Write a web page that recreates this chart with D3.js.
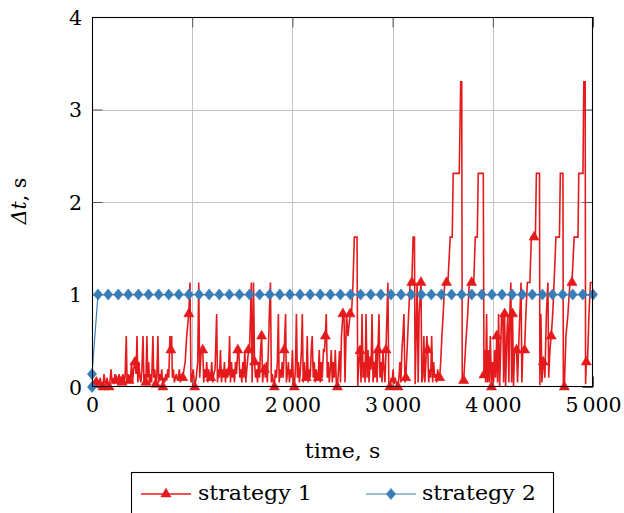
<!DOCTYPE html>
<html>
<head>
<meta charset="utf-8">
<script src="https://cdn.jsdelivr.net/npm/d3@7"></script>
<style>
  html, body { margin: 0; padding: 0; background: #fff; }
  svg { display: block; }
  text { font-family: "DejaVu Serif", "Liberation Serif", serif; fill: #000; }
</style>
</head>
<body>
<svg id="chart" width="624" height="513"></svg>
<script>
// ---- data ----
const xTicks = [0, 1000, 2000, 3000, 4000, 5000];
const yTicks = [0, 1, 2, 3, 4];
const seriesNames = ["strategy 1", "strategy 2"];
const xLabel = "time, s";

// strategy 1: [time (s), Δt (s)]
const strategy1 = [
  [0,0.02],[10,0.05],[20,0.02],[30,0.07],[43,0.05],[52,0.0],[62,0.07],[72,0.02],[82,0.1],[92,0.03],
  [110,0.0],[120,0.14],[130,0.05],[140,0.02],[150,0.1],[160,0.03],[171,0.0],[180,0.07],[190,0.19],[200,0.05],
  [210,0.1],[220,0.03],[230,0.14],[240,0.07],[250,0.1],[260,0.03],[270,0.14],[280,0.07],[290,0.1],[300,0.05],
  [310,0.14],[320,0.07],[330,0.1],[342,0.55],[350,0.05],[360,0.14],[370,0.07],[385,0.1],[395,0.27],[405,0.05],
  [415,0.19],[429,0.27],[440,0.14],[449,0.55],[458,0.05],[468,0.27],[478,0.1],[488,0.05],[498,0.19],[509,0.55],
  [518,0.07],[528,0.14],[538,0.05],[548,0.55],[556,0.1],[566,0.27],[575,0.03],[585,0.14],[595,0.05],[608,0.55],
  [616,0.1],[626,0.19],[636,0.03],[646,0.1],[658,0.55],[666,0.05],[676,0.14],[686,0.07],[696,0.19],[708,0.0],
  [716,0.1],[726,0.05],[736,0.14],[746,0.07],[756,0.19],[766,0.1],[778,0.55],[787,0.4],[795,0.55],[802,0.1],
  [812,0.19],[822,0.05],[832,0.1],[842,0.14],[852,0.07],[862,0.1],[872,0.19],[882,0.05],[894,0.14],[906,0.1],
  [918,0.19],[930,0.27],[945,0.55],[966,0.79],[978,1.13],[988,0.05],[998,0.1],[1010,0.19],[1025,0.0],[1040,0.1],
  [1055,0.27],[1065,1.13],[1075,0.1],[1090,0.4],[1105,0.4],[1115,0.05],[1125,0.19],[1135,0.1],[1145,0.27],[1155,0.05],
  [1165,0.19],[1175,0.1],[1185,0.1],[1195,0.27],[1205,0.05],[1215,0.14],[1228,0.19],[1244,0.79],[1252,0.05],[1262,0.19],
  [1272,0.1],[1282,0.4],[1292,0.05],[1302,0.19],[1312,0.1],[1322,0.27],[1332,0.05],[1342,0.19],[1352,0.1],[1363,0.16],
  [1373,0.55],[1382,0.05],[1392,0.27],[1402,0.1],[1412,0.19],[1422,0.05],[1432,0.27],[1442,0.14],[1455,0.4],[1465,0.4],
  [1475,0.1],[1485,0.19],[1495,0.05],[1505,0.27],[1515,0.1],[1525,0.4],[1535,0.05],[1545,0.19],[1562,0.4],[1572,0.4],
  [1582,0.79],[1590,1.13],[1598,0.05],[1605,0.4],[1612,1.13],[1622,0.27],[1632,0.1],[1642,0.19],[1652,0.05],[1662,0.27],
  [1672,0.1],[1682,0.4],[1693,0.55],[1703,0.05],[1712,0.19],[1721,0.19],[1730,0.1],[1740,0.27],[1750,0.05],[1760,0.4],
  [1770,0.79],[1781,1.13],[1790,0.05],[1800,0.14],[1810,0.05],[1820,0.0],[1830,0.19],[1840,0.1],[1850,0.27],[1860,0.79],
  [1868,0.05],[1878,0.19],[1888,0.1],[1898,0.27],[1908,0.1],[1918,0.4],[1932,0.79],[1940,0.05],[1950,0.14],[1960,0.27],
  [1970,0.05],[1980,0.19],[1990,0.1],[2000,0.4],[2010,0.05],[2019,0.0],[2030,0.19],[2040,0.79],[2050,0.1],[2060,0.27],
  [2070,0.05],[2080,0.19],[2090,0.4],[2099,0.79],[2108,0.05],[2118,0.27],[2128,0.1],[2139,0.1],[2148,0.55],[2158,0.05],
  [2168,0.19],[2178,0.1],[2188,0.4],[2198,0.55],[2208,0.1],[2218,0.27],[2228,0.05],[2238,0.19],[2248,0.1],[2258,0.1],
  [2268,0.4],[2278,0.05],[2288,0.27],[2298,0.1],[2310,0.4],[2320,0.39],[2329,0.55],[2338,0.79],[2348,0.1],[2358,0.27],
  [2368,0.05],[2378,0.19],[2388,0.4],[2398,0.05],[2408,0.27],[2418,0.1],[2428,0.4],[2438,0.05],[2449,0.0],[2460,0.19],
  [2470,0.39],[2480,0.05],[2490,0.55],[2504,0.79],[2515,0.79],[2525,0.05],[2540,0.79],[2555,0.55],[2576,0.79],[2590,0.79],
  [2605,1.13],[2618,1.62],[2645,1.62],[2652,0.0],[2662,0.27],[2675,0.39],[2685,0.05],[2695,0.79],[2705,0.1],[2715,0.27],
  [2725,0.05],[2735,0.79],[2745,0.1],[2755,0.4],[2765,0.05],[2775,0.27],[2785,0.19],[2795,0.79],[2805,0.05],[2815,0.27],
  [2825,0.1],[2835,0.4],[2845,0.05],[2854,0.4],[2864,0.79],[2874,0.1],[2884,0.27],[2894,0.05],[2904,0.4],[2914,0.19],
  [2924,0.05],[2934,0.4],[2944,0.79],[2953,1.13],[2962,0.05],[2973,0.0],[2985,0.1],[2995,0.05],[3005,0.19],[3015,0.03],
  [3025,0.1],[3035,0.05],[3053,0.0],[3063,0.1],[3073,0.27],[3083,0.05],[3093,0.4],[3103,0.55],[3113,0.79],[3123,0.05],
  [3132,0.1],[3145,0.4],[3160,0.79],[3175,1.13],[3192,1.13],[3205,1.62],[3218,1.62],[3225,0.03],[3235,0.55],[3245,1.13],
  [3255,0.05],[3265,0.79],[3283,1.13],[3292,0.05],[3302,0.1],[3312,0.55],[3322,0.05],[3332,0.27],[3342,0.55],[3351,0.4],
  [3360,0.05],[3370,0.19],[3380,0.1],[3390,0.55],[3400,0.05],[3410,0.27],[3420,0.1],[3430,0.14],[3440,0.05],[3450,0.19],
  [3460,0.1],[3470,0.1],[3480,0.27],[3492,0.55],[3505,0.79],[3520,1.13],[3538,1.13],[3552,1.13],[3575,1.62],[3595,1.62],
  [3605,2.31],[3665,2.31],[3680,3.3],[3690,3.3],[3695,0.05],[3700,0.1],[3709,0.07],[3720,0.27],[3735,0.55],[3750,0.79],
  [3765,1.13],[3788,1.13],[3810,1.13],[3825,1.62],[3845,1.62],[3855,2.31],[3905,2.31],[3912,0.13],[3920,0.4],[3928,0.05],
  [3938,0.79],[3946,0.05],[3955,0.4],[3965,0.05],[3975,0.55],[3987,0.0],[3997,0.27],[4008,0.05],[4018,0.4],[4028,0.1],
  [4039,0.55],[4048,0.05],[4058,0.79],[4068,0.0],[4078,0.4],[4088,0.79],[4100,0.79],[4108,0.05],[4118,0.79],[4128,0.0],
  [4140,0.55],[4150,0.79],[4160,0.05],[4170,0.79],[4180,1.13],[4188,0.05],[4197,0.79],[4207,0.0],[4217,0.4],[4227,0.4],
  [4237,0.4],[4247,0.05],[4257,0.4],[4270,0.79],[4282,1.13],[4290,0.05],[4300,0.4],[4317,0.4],[4330,0.79],[4345,1.13],
  [4370,1.13],[4385,1.62],[4412,1.62],[4425,1.62],[4435,2.31],[4466,2.31],[4470,0.02],[4480,0.79],[4490,0.05],[4503,0.27],
  [4512,0.27],[4520,0.1],[4535,0.79],[4550,1.13],[4558,0.1],[4570,0.4],[4583,0.55],[4598,0.79],[4612,1.13],[4630,1.62],
  [4665,1.62],[4674,2.31],[4700,2.31],[4704,0.0],[4714,0.0],[4730,0.55],[4750,0.79],[4770,1.13],[4790,1.13],[4812,1.62],
  [4850,1.62],[4858,2.31],[4900,2.31],[4908,3.3],[4922,3.3],[4926,0.03],[4933,0.27],[4945,0.27],[4960,0.79],[4975,1.13],
  [5000,1.13]
];

// times of the strategy 1 samples that carry a marker
const strategy1Marked = [
  43,110,171,240,300,370,429,538,636,708,787,906,966,1025,1105,1185,1363,1455,1562,1622,
  1693,1721,1820,1918,2019,2139,2258,2329,2449,2504,2576,2675,2775,2854,2934,2973,3053,3132,3192,3283,
  3351,3470,3538,3709,3788,3912,3987,4039,4118,4197,4237,4317,4412,4503,4583,4714,4790,4933
];

// strategy 2: [time (s), Δt (s)]
const strategy2 = [
  [0,0],[0,0.14],[60,1],[161,1],[262,1],[362,1],[463,1],[564,1],[665,1],[766,1],[866,1],[967,1],
  [1068,1],[1169,1],[1270,1],[1370,1],[1471,1],[1572,1],[1673,1],[1774,1],[1874,1],[1975,1],
  [2076,1],[2177,1],[2278,1],[2378,1],[2479,1],[2580,1],[2681,1],[2782,1],[2882,1],[2983,1],
  [3084,1],[3185,1],[3286,1],[3386,1],[3487,1],[3588,1],[3689,1],[3790,1],[3890,1],[3991,1],
  [4092,1],[4193,1],[4294,1],[4394,1],[4495,1],[4596,1],[4697,1],[4798,1],[4898,1],[5000,1]
];

// ---- layout ----
const plot = { left: 92, right: 593, top: 17, bottom: 387 };
const red = "#e41a1c", blue = "#377eb8";
const wordScale = 1.08;

const svg = d3.select("#chart");
const x = d3.scaleLinear().domain([0, 5000]).range([plot.left, plot.right]);
const y = d3.scaleLinear().domain([0, 4]).range([plot.bottom, plot.top]);

// grid
const grid = svg.append("g").attr("stroke", "#c4c4c4").attr("stroke-width", 1);
grid.selectAll("line.gx").data(xTicks.slice(1, -1)).join("line")
  .attr("x1", d => Math.round(x(d)) + 0.5).attr("x2", d => Math.round(x(d)) + 0.5)
  .attr("y1", plot.top).attr("y2", plot.bottom);
grid.selectAll("line.gy").data(yTicks.slice(1, -1)).join("line")
  .attr("y1", d => Math.round(y(d)) + 0.5).attr("y2", d => Math.round(y(d)) + 0.5)
  .attr("x1", plot.left).attr("x2", plot.right);

// axes: ticks point inward on all four sides
const fmtX = d => d === 0 ? "0" : d3.format(",")(d).replace(",", "\u2009");
const tickLen = 10.5;
function styleAxis(g, showText) {
  g.select(".domain").remove();
  g.selectAll(".tick line").attr("stroke", "#555").attr("stroke-width", 1);
  g.selectAll(".tick text")
    .style("font-family", '"DejaVu Serif", serif')
    .style("font-size", "20.5px")
    .attr("fill", "#000")
    .style("display", showText ? null : "none");
}
svg.append("g").attr("transform", `translate(0,${plot.bottom})`)
  .call(d3.axisBottom(x).tickValues(xTicks).tickFormat(fmtX).tickSizeInner(-tickLen).tickSizeOuter(0).tickPadding(10))
  .call(g => styleAxis(g, true))
  .call(g => g.selectAll(".tick text").attr("y", 10).attr("dy", "0.75em"));
svg.append("g").attr("transform", `translate(0,${plot.top})`)
  .call(d3.axisTop(x).tickValues(xTicks).tickSizeInner(-tickLen).tickSizeOuter(0))
  .call(g => styleAxis(g, false));
svg.append("g").attr("transform", `translate(${plot.left},0)`)
  .call(d3.axisLeft(y).tickValues(yTicks).tickFormat(d3.format("d")).tickSizeInner(-tickLen).tickSizeOuter(0))
  .call(g => styleAxis(g, true))
  .call(g => g.selectAll(".tick text").attr("x", -10).attr("dy", "0.36em"));
svg.append("g").attr("transform", `translate(${plot.right},0)`)
  .call(d3.axisRight(y).tickValues(yTicks).tickSizeInner(-tickLen).tickSizeOuter(0))
  .call(g => styleAxis(g, false));

// series lines, clipped to the plot box
svg.append("clipPath").attr("id", "plotClip").append("rect")
  .attr("x", plot.left).attr("y", plot.top)
  .attr("width", plot.right - plot.left).attr("height", plot.bottom - plot.top);

const line = d3.line().x(d => x(d[0])).y(d => y(d[1]));

const triangle = r => `M0,${-r}L${0.866 * r},${0.5 * r}L${-0.866 * r},${0.5 * r}Z`;
const diamond = (hw, hh) => `M0,${-hh}L${hw},0L0,${hh}L${-hw},0Z`;

// strategy 1
svg.append("path").datum(strategy1)
  .attr("clip-path", "url(#plotClip)")
  .attr("fill", "none").attr("stroke", red).attr("stroke-width", 1.6)
  .attr("d", line);
const s1ByTime = new Map(strategy1.map(d => [d[0], d[1]]));
svg.append("g").selectAll("path")
  .data(strategy1Marked.map(t => [t, s1ByTime.get(t)]))
  .join("path")
  .attr("transform", d => `translate(${x(d[0])},${y(d[1])})`)
  .attr("d", triangle(5.8))
  .attr("fill", red).attr("stroke", red).attr("stroke-width", 0.6);

// strategy 2
svg.append("path").datum(strategy2)
  .attr("clip-path", "url(#plotClip)")
  .attr("fill", "none").attr("stroke", blue).attr("stroke-width", 1.2)
  .attr("d", line);
svg.append("g").selectAll("path")
  .data(strategy2)
  .join("path")
  .attr("transform", d => `translate(${x(d[0])},${y(d[1])})`)
  .attr("d", diamond(4.6, 5.6))
  .attr("fill", blue).attr("stroke", blue).attr("stroke-width", 0.6);

// frame
svg.append("rect")
  .attr("x", plot.left + 0.5).attr("y", plot.top + 0.5)
  .attr("width", plot.right - plot.left - 1).attr("height", plot.bottom - plot.top - 1)
  .attr("fill", "none").attr("stroke", "#000").attr("stroke-width", 1.1);

// axis titles
svg.append("text")
  .attr("transform", `translate(${(plot.left + plot.right) / 2},458) scale(${wordScale},1)`)
  .attr("text-anchor", "middle")
  .style("font-size", "20.5px")
  .text(xLabel);

const yTitle = svg.append("text")
  .attr("transform", "translate(26,201) rotate(-90)")
  .attr("text-anchor", "middle")
  .style("font-size", "20.5px");
yTitle.append("tspan").style("font-style", "italic").text("\u0394t");
yTitle.append("tspan").text(", s");

// legend
const legend = svg.append("g");
legend.append("rect")
  .attr("x", 131.5).attr("y", 472.5).attr("width", 422).attr("height", 60)
  .attr("fill", "#fff").attr("stroke", "#000").attr("stroke-width", 1.1);
const legendItems = [
  { name: seriesNames[0], color: red, x0: 141, mark: triangle(5.8), textX: 198, width: 1.6 },
  { name: seriesNames[1], color: blue, x0: 366, mark: diamond(4.6, 5.6), textX: 422, width: 1.2 }
];
const li = legend.selectAll("g.item").data(legendItems).join("g");
li.append("line")
  .attr("x1", d => d.x0).attr("x2", d => d.x0 + 50)
  .attr("y1", 494).attr("y2", 494)
  .attr("stroke", d => d.color).attr("stroke-width", d => d.width);
li.append("path")
  .attr("transform", d => `translate(${d.x0 + 25},494)`)
  .attr("d", d => d.mark)
  .attr("fill", d => d.color).attr("stroke", d => d.color).attr("stroke-width", 0.6);
li.append("text")
  .attr("transform", d => `translate(${d.textX},500) scale(${wordScale},1)`)
  .style("font-size", "20.5px")
  .text(d => d.name);
</script>
</body>
</html>
